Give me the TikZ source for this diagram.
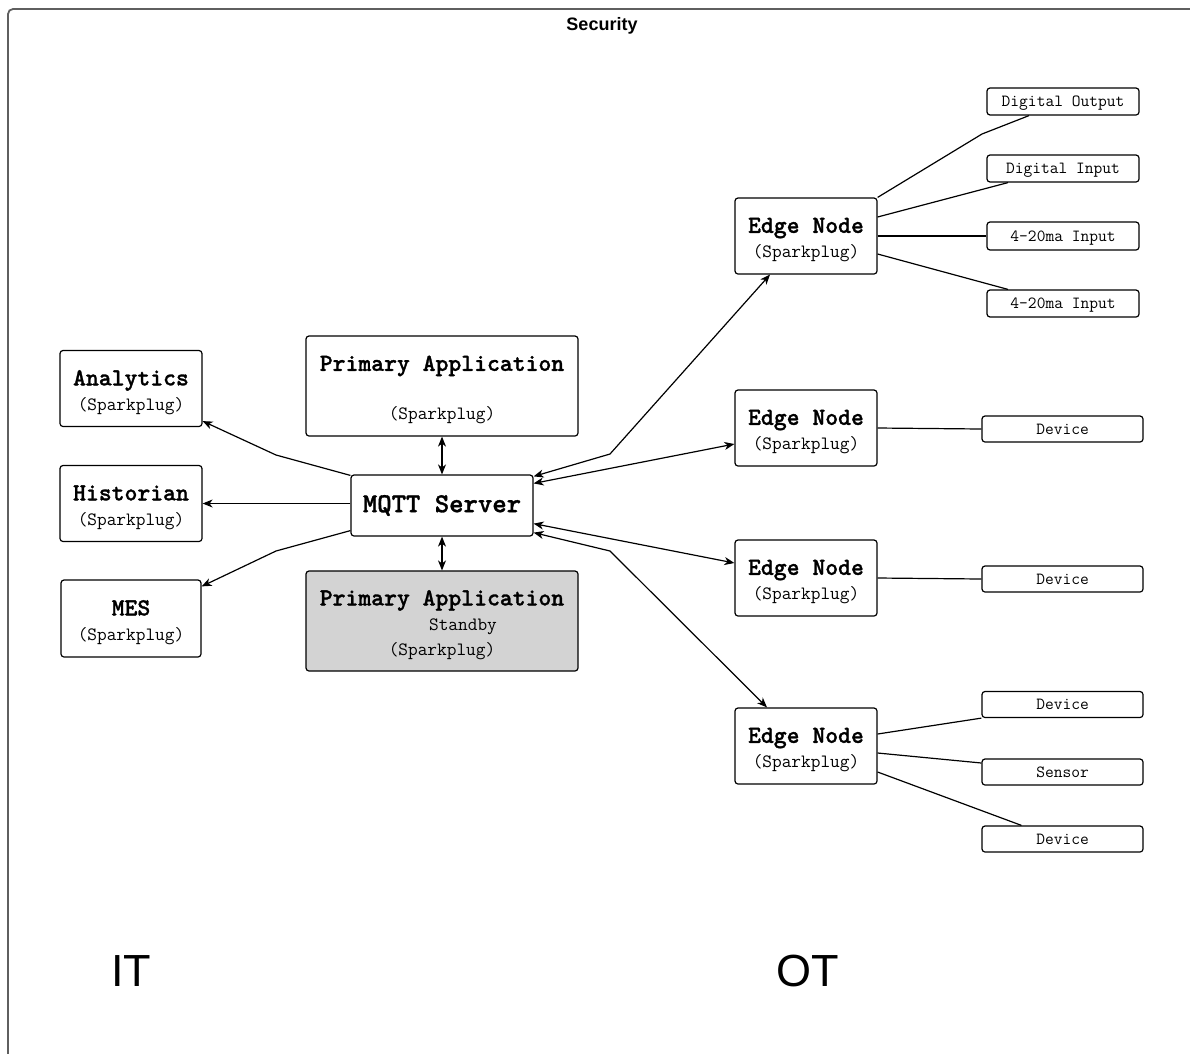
\documentclass[tikz,border=0pt]{standalone}
\usepackage{fontspec}
\setmainfont{Liberation Sans}
\newfontfamily\monob{lmmonolt10-bold.otf}[FakeBold=1.2]
\usetikzlibrary{positioning, arrows.meta}

\definecolor{framegray}{HTML}{5F5F5F}
\definecolor{stbygray}{HTML}{D3D3D3}
\newcommand{\ttl}[1]{{\fontsize{24.5}{28}\selectfont\monob\rule{0pt}{23pt}#1}}

\begin{document}
\begin{tikzpicture}[
    x=1pt, y=-1pt,
    box/.style={
        rectangle,
        draw=black,
        line width=1.2pt,
        rounded corners=3pt,
        inner sep=0pt,
        align=center,
        minimum width=142pt,
        minimum height=76pt,
        font=\fontsize{18.8}{25}\selectfont\ttfamily
    },
    leaf/.style={
        rectangle,
        draw=black,
        line width=1.2pt,
        rounded corners=3pt,
        inner sep=0pt,
        text height=10pt,
        text depth=0pt,
        minimum width=152pt,
        minimum height=27pt,
        font=\fontsize{17}{18}\selectfont\ttfamily
    },
    link/.style={line width=1.2pt},
    arrow/.style={-{Stealth[length=10pt, width=8pt, inset=3pt]}, line width=1.2pt},
    biarrow/.style={{Stealth[length=10pt, width=8pt, inset=3pt]}-{Stealth[length=10pt, width=8pt, inset=3pt]}, line width=1.2pt},
    zone/.style={font=\fontsize{45}{50}\selectfont}
]
\useasboundingbox (0,0) rectangle (1190,1053);

% Frame
\draw[framegray, line width=1.8pt, rounded corners=5pt] (8,9) rectangle (1210,1075);
\node[font=\fontsize{18}{20}\selectfont\bfseries] (sec) at (602,26) {Security};

% === IT side ===
\node[box] (ana) at (131,388.5) {\ttl{Analytics}\\(Sparkplug)};
\node[box] (hist) at (131,503.5) {\ttl{Historian}\\(Sparkplug)};
\node[box, minimum width=140pt, minimum height=77pt] (mes) at (131,618.5) {\ttl{MES}\\(Sparkplug)};

\node[box, minimum width=272pt, minimum height=100pt] (prim) at (442,386) {\ttl{Primary Application}\\[24pt](Sparkplug)};
\node[box, minimum width=182pt, minimum height=61pt, font=\fontsize{27.4}{30}\selectfont\monob] (mqtt) at (442,505.5) {MQTT Server};
\node[box, fill=stbygray, minimum width=272pt, minimum height=100pt] (stby) at (442,621) {\ttl{Primary Application}\\\hspace*{42pt}Standby\\(Sparkplug)};

% === OT side ===
\node[box] (en1) at (806,236) {\ttl{Edge Node}\\(Sparkplug)};
\node[box] (en2) at (806,428) {\ttl{Edge Node}\\(Sparkplug)};
\node[box] (en3) at (806,578) {\ttl{Edge Node}\\(Sparkplug)};
\node[box] (en4) at (806,746) {\ttl{Edge Node}\\(Sparkplug)};

\node[leaf] (dout) at (1063,101.5) {Digital Output};
\node[leaf] (din) at (1063,168.5) {Digital Input};
\node[leaf, minimum height=28pt] (ain1) at (1063,236) {4-20ma Input};
\node[leaf] (ain2) at (1063,303.5) {4-20ma Input};

\node[leaf, minimum width=161pt, minimum height=26pt] (dev2) at (1062.5,429) {Device};
\node[leaf, minimum width=161pt, minimum height=26pt] (dev3) at (1062.5,579) {Device};
\node[leaf, minimum width=161pt, minimum height=26pt] (dev4a) at (1062.5,704.5) {Device};
\node[leaf, minimum width=161pt, minimum height=26pt] (sens4) at (1062.5,772) {Sensor};
\node[leaf, minimum width=161pt, minimum height=26pt] (dev4b) at (1062.5,839) {Device};

\node[zone] (it) at (131,971) {IT};
\node[zone] (ot) at (808,971) {OT};

% MQTT to IT clients
\draw[arrow] ([yshift=-1pt]mqtt.north west) -- (276,455) -- ([yshift=6pt]ana.south east);
\draw[arrow] ([yshift=2pt]mqtt.west) -- (hist.east);
\draw[arrow] ([yshift=6pt]mqtt.south west) -- (276,551) -- ([yshift=-7pt]mes.north east);
\draw[biarrow] (prim.south) -- (mqtt.north);
\draw[biarrow] (mqtt.south) -- (stby.north);

% MQTT to edge nodes
\draw[biarrow] ([yshift=-2pt]mqtt.north east) -- (610,454) -- ([xshift=-36pt]en1.south);
\draw[biarrow] ([yshift=-9pt]mqtt.north east) -- ([yshift=-16pt]en2.west);
\draw[biarrow] ([yshift=13pt]mqtt.south east) -- ([yshift=15pt]en3.west);
\draw[biarrow] ([yshift=4pt]mqtt.south east) -- (610,551) -- ([xshift=-39pt]en4.north);

% Edge nodes to I/O
\draw[link] (en1.north east) -- (982,134) -- ([xshift=-34pt]dout.south);
\draw[link] ([yshift=19pt]en1.east) -- ([xshift=-55pt]din.south);
\draw[link] (en1.east) -- (ain1.west);
\draw[link] ([yshift=-18pt]en1.east) -- ([xshift=-55pt]ain2.north);
\draw[link] (en2.east) -- (dev2.west);
\draw[link] (en3.east) -- (dev3.west);
\draw[link] ([yshift=12pt]en4.east) -- (dev4a.south west);
\draw[link] ([yshift=-7pt]en4.east) -- ([yshift=9pt]sens4.west);
\draw[link] ([yshift=-26pt]en4.east) -- ([xshift=-41pt]dev4b.north);

\end{tikzpicture}
\end{document}
